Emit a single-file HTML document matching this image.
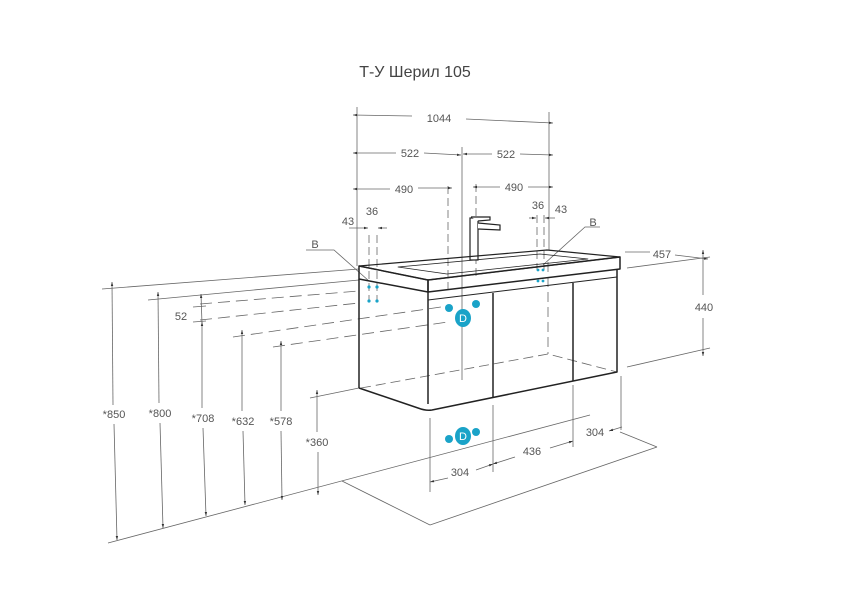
<!DOCTYPE html>
<html><head><meta charset="utf-8"><style>
html,body{margin:0;padding:0;background:#fff;}
svg{display:block;font-family:"Liberation Sans",sans-serif;}
text{fill:#555;font-size:11px;}
</style></head><body>
<svg width="849" height="600" viewBox="0 0 849 600" xmlns="http://www.w3.org/2000/svg">
<defs>
<marker id="a" viewBox="0 0 10 10" refX="10" refY="5" markerWidth="7" markerHeight="5" orient="auto-start-reverse"><path d="M0,2L10,5L0,8z" fill="#333"/></marker>
</defs>
<text x="415" y="77" text-anchor="middle" style="font-size:16px;fill:#444">Т-У Шерил 105</text>

<g stroke="#666" stroke-width="0.8" fill="none">
<!-- top dims extension lines -->
<line x1="357" y1="107" x2="357" y2="266"/>
<line x1="549" y1="112" x2="549" y2="250"/>
<line x1="462" y1="147" x2="462" y2="380"/>
<line x1="448" y1="186" x2="448" y2="290" stroke-dasharray="8,4"/>
<line x1="476" y1="184" x2="476" y2="278" stroke-dasharray="8,4"/>
<line x1="369" y1="235" x2="369" y2="300" stroke-dasharray="8,4"/>
<line x1="377" y1="235" x2="377" y2="300" stroke-dasharray="8,4"/>
<line x1="537" y1="215" x2="537" y2="270" stroke-dasharray="8,4"/>
<line x1="544" y1="215" x2="544" y2="270" stroke-dasharray="8,4"/>
<!-- 1044 -->
<line x1="353" y1="115" x2="412" y2="116" marker-start="url(#a)"/>
<line x1="466" y1="119" x2="553" y2="123" marker-end="url(#a)"/>
<!-- 522 -->
<line x1="353" y1="153" x2="396" y2="153" marker-start="url(#a)"/>
<line x1="424" y1="153" x2="461" y2="155" marker-end="url(#a)"/>
<line x1="463" y1="154" x2="492" y2="154" marker-start="url(#a)"/>
<line x1="520" y1="154" x2="553" y2="155" marker-end="url(#a)"/>
<!-- 490 -->
<line x1="353" y1="189" x2="390" y2="189" marker-start="url(#a)"/>
<line x1="418" y1="188" x2="452" y2="188" marker-end="url(#a)"/>
<line x1="473" y1="187" x2="500" y2="187" marker-start="url(#a)"/>
<line x1="528" y1="187" x2="553" y2="187" marker-end="url(#a)"/>
<!-- 43/36 -->
<line x1="349" y1="228" x2="368" y2="228" marker-end="url(#a)"/>
<line x1="378" y1="228" x2="387" y2="228" marker-start="url(#a)"/>
<line x1="529" y1="218" x2="536" y2="218" marker-end="url(#a)"/>
<line x1="545" y1="218" x2="555" y2="218" marker-start="url(#a)"/>
<!-- B leaders -->
<polyline points="306,250 334,250 369,281"/>
<polyline points="600,227 585,227 543,265"/>

<!-- wall lines -->
<line x1="102" y1="289" x2="359" y2="269"/>
<line x1="148" y1="300" x2="359" y2="280"/>
<line x1="200" y1="304" x2="359" y2="291" stroke-dasharray="12,6"/>
<line x1="200" y1="320" x2="359" y2="303" stroke-dasharray="12,6"/>
<line x1="233" y1="337" x2="448" y2="306" stroke-dasharray="12,6"/>
<line x1="273" y1="347" x2="448" y2="322" stroke-dasharray="12,6"/>
<line x1="310" y1="398" x2="359" y2="388"/>
<line x1="108" y1="543" x2="590" y2="415"/>
<line x1="342" y1="481" x2="430" y2="525"/>
<line x1="430" y1="525" x2="657" y2="447"/>
<line x1="657" y1="447" x2="620" y2="432"/>
<!-- right 457/440 -->
<line x1="627" y1="268" x2="710" y2="257"/>
<line x1="627" y1="367" x2="710" y2="348"/>
<line x1="625" y1="252" x2="650" y2="252"/>
<line x1="675" y1="255" x2="708" y2="259" marker-end="url(#a)"/>
<line x1="703" y1="250" x2="703" y2="295" marker-start="url(#a)"/>
<line x1="703" y1="318" x2="703" y2="356" marker-end="url(#a)"/>
<!-- bottom 304/436/304 -->
<line x1="430" y1="418" x2="430" y2="492"/>
<line x1="493" y1="405" x2="493" y2="472"/>
<line x1="573" y1="385" x2="573" y2="447"/>
<line x1="621" y1="376" x2="621" y2="430"/>
<line x1="430" y1="482" x2="448" y2="478" marker-start="url(#a)"/>
<line x1="476" y1="470" x2="493" y2="464" marker-end="url(#a)"/>
<line x1="493" y1="464" x2="515" y2="457" marker-start="url(#a)"/>
<line x1="550" y1="448" x2="573" y2="441" marker-end="url(#a)"/>
<line x1="609" y1="431" x2="622" y2="427" marker-start="url(#a)"/>
<!-- vertical height dims -->
<line x1="112" y1="282" x2="113" y2="405" marker-start="url(#a)"/>
<line x1="114" y1="424" x2="117" y2="540" marker-end="url(#a)"/>
<line x1="158" y1="292" x2="159" y2="403" marker-start="url(#a)"/>
<line x1="160" y1="423" x2="163" y2="528" marker-end="url(#a)"/>
<line x1="201" y1="294" x2="202" y2="324" marker-start="url(#a)"/>
<line x1="202" y1="322" x2="202" y2="408" marker-start="url(#a)"/>
<line x1="203" y1="428" x2="206" y2="516" marker-end="url(#a)"/>
<line x1="242" y1="330" x2="242" y2="411" marker-start="url(#a)"/>
<line x1="243" y1="431" x2="245" y2="505" marker-end="url(#a)"/>
<line x1="281" y1="341" x2="281" y2="411" marker-start="url(#a)"/>
<line x1="281" y1="431" x2="282" y2="500" marker-end="url(#a)"/>
<line x1="317" y1="390" x2="317" y2="432" marker-start="url(#a)"/>
<line x1="318" y1="452" x2="318" y2="495" marker-end="url(#a)"/>
<line x1="193" y1="307" x2="206" y2="306"/>
<line x1="193" y1="322" x2="206" y2="321"/>
<!-- hidden cabinet lines -->
<polyline points="361,388 548,354 617,372" stroke-dasharray="10,5"/>
<line x1="548" y1="262" x2="548" y2="354" stroke-dasharray="10,5"/>
</g>

<!-- faucet -->
<g stroke="#222" stroke-width="1.2" fill="#fff">
<rect x="470" y="218" width="8" height="42"/>
<polyline points="471,217 490,217 490,220 478,221"/>
<polyline points="478,223 500,225 500,230 478,229"/>
</g>

<!-- cabinet -->
<g stroke="#222" stroke-width="1.5" fill="none" stroke-linejoin="round">
<polygon points="359,266 547,250 620,257 428,280" stroke-width="1.2"/>
<polygon points="428,280 620,257 620,269 428,292"/>
<polygon points="359,266 428,280 428,292 359,279"/>
<polygon points="398,267 540,254 588,259 447,274" stroke-width="0.8"/>
<line x1="359" y1="279" x2="359" y2="388"/>
<path d="M359,388 L418,408 Q426,411 432,410 L617,372 L617,269"/>
<line x1="428" y1="292" x2="428" y2="404"/>
<line x1="428" y1="300" x2="617" y2="277" stroke-width="1"/>
<line x1="493" y1="293" x2="493" y2="397"/>
<line x1="573" y1="283" x2="573" y2="381"/>
</g>

<!-- dots -->
<g fill="#1aa3c8">
<circle cx="369" cy="287" r="1.6"/><circle cx="377" cy="287" r="1.6"/>
<circle cx="369" cy="301" r="1.6"/><circle cx="377" cy="301" r="1.6"/>
<circle cx="538" cy="270" r="1.4"/><circle cx="543" cy="270" r="1.4"/>
<circle cx="538" cy="281" r="1.4"/><circle cx="543" cy="281" r="1.4"/>
<circle cx="449" cy="308" r="4"/><circle cx="476" cy="304" r="4"/>
<ellipse cx="463" cy="318" rx="8" ry="9"/>
<circle cx="449" cy="439" r="4"/><circle cx="476" cy="432" r="4"/>
<ellipse cx="463" cy="436" rx="8" ry="9"/>
</g>
<g style="font-size:10px" text-anchor="middle">
<text x="463" y="322" style="fill:#fff;font-size:11px">D</text>
<text x="463" y="440" style="fill:#fff;font-size:11px">D</text>
</g>

<g text-anchor="middle">
<text x="439" y="122">1044</text>
<text x="410" y="157">522</text>
<text x="506" y="158">522</text>
<text x="404" y="193">490</text>
<text x="514" y="191">490</text>
<text x="348" y="225">43</text>
<text x="372" y="215">36</text>
<text x="538" y="209">36</text>
<text x="561" y="213">43</text>
<text x="315" y="248">B</text>
<text x="593" y="226">B</text>
<text x="662" y="258">457</text>
<text x="704" y="311">440</text>
<text x="181" y="320">52</text>
<text x="114" y="418">*850</text>
<text x="160" y="417">*800</text>
<text x="203" y="422">*708</text>
<text x="243" y="425">*632</text>
<text x="281" y="425">*578</text>
<text x="317" y="446">*360</text>
<text x="460" y="476">304</text>
<text x="532" y="455">436</text>
<text x="595" y="436">304</text>
</g>
</svg>
</body></html>
